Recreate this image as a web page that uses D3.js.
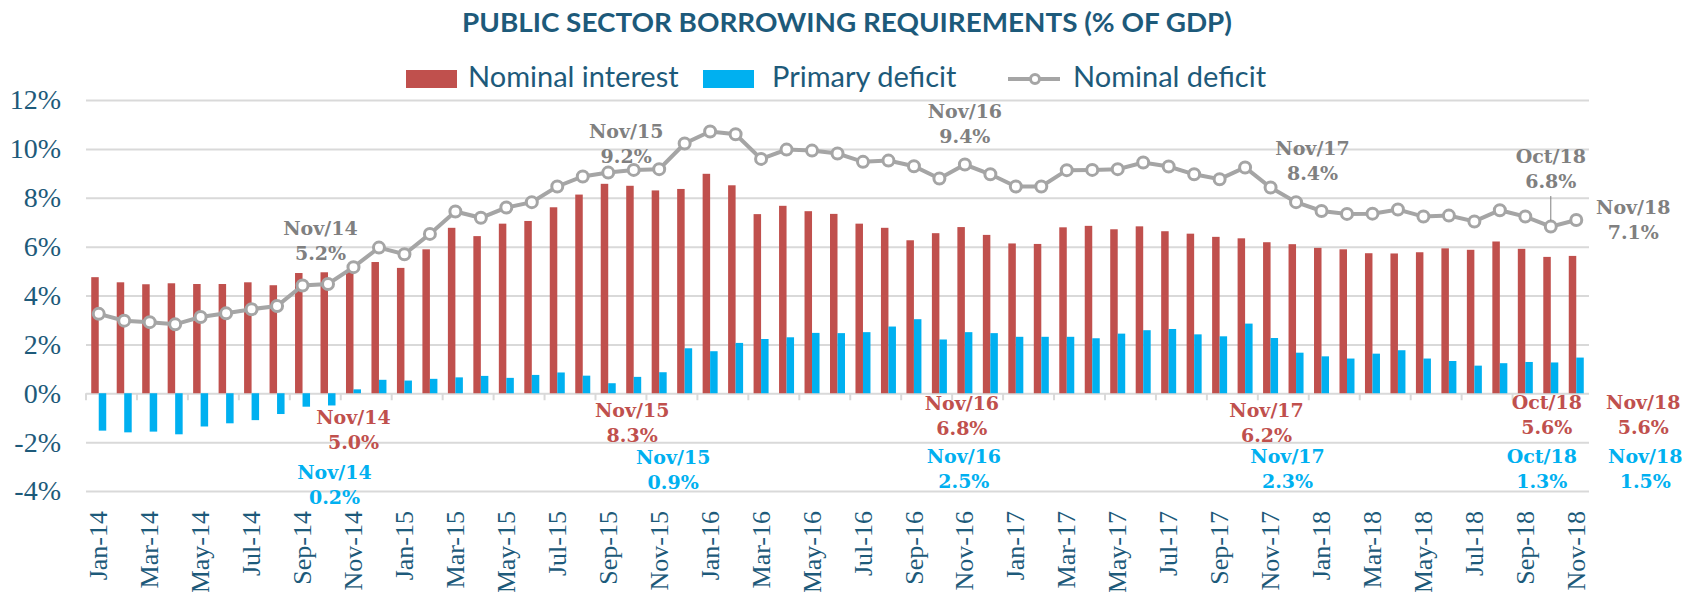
<!DOCTYPE html>
<html>
<head>
<meta charset="utf-8">
<script src="https://cdn.jsdelivr.net/npm/d3@7"></script>
<style>
  body { margin: 0; background: #fff; }
</style>
</head>
<body>
<script>
// Public sector borrowing requirements chart

// Size of the page
const w = 1695;
const h = 592;
const plotLeft = 86;
const plotRight = 1589;

// Colours
const red = "#C0504D";
const blue = "#00B0F0";
const gray = "#A5A5A5";
const grayText = "#808080";
const navy = "#1d5a7a";

// Months (Jan-14 to Nov-18)
const months = [
  "Jan-14","Feb-14","Mar-14","Apr-14","May-14","Jun-14","Jul-14","Aug-14","Sep-14","Oct-14","Nov-14","Dec-14",
  "Jan-15","Feb-15","Mar-15","Apr-15","May-15","Jun-15","Jul-15","Aug-15","Sep-15","Oct-15","Nov-15","Dec-15",
  "Jan-16","Feb-16","Mar-16","Apr-16","May-16","Jun-16","Jul-16","Aug-16","Sep-16","Oct-16","Nov-16","Dec-16",
  "Jan-17","Feb-17","Mar-17","Apr-17","May-17","Jun-17","Jul-17","Aug-17","Sep-17","Oct-17","Nov-17","Dec-17",
  "Jan-18","Feb-18","Mar-18","Apr-18","May-18","Jun-18","Jul-18","Aug-18","Sep-18","Oct-18","Nov-18"
];

// Nominal interest (% of GDP)
const nominalInterest = [
  4.75, 4.54, 4.46, 4.50, 4.47, 4.47, 4.54, 4.42, 4.92, 4.95, 5.00, 5.37,
  5.13, 5.89, 6.77, 6.43, 6.94, 7.05, 7.61, 8.13, 8.57, 8.49, 8.30, 8.36,
  8.98, 8.51, 7.33, 7.67, 7.45, 7.34, 6.94, 6.77, 6.26, 6.55, 6.80, 6.48,
  6.13, 6.11, 6.79, 6.85, 6.71, 6.83, 6.63, 6.53, 6.40, 6.34, 6.18, 6.10,
  5.95, 5.89, 5.73, 5.72, 5.77, 5.93, 5.87, 6.21, 5.91, 5.58, 5.62
];

// Primary deficit (% of GDP)
const primaryDeficit = [
  -1.53, -1.60, -1.57, -1.68, -1.36, -1.23, -1.10, -0.85, -0.55, -0.50, 0.16, 0.55,
  0.52, 0.59, 0.65, 0.71, 0.63, 0.75, 0.85, 0.72, 0.41, 0.67, 0.86, 1.84,
  1.72, 2.06, 2.22, 2.29, 2.47, 2.46, 2.50, 2.73, 3.03, 2.20, 2.50, 2.46,
  2.31, 2.31, 2.31, 2.25, 2.44, 2.58, 2.63, 2.41, 2.33, 2.85, 2.26, 1.66,
  1.51, 1.42, 1.62, 1.76, 1.42, 1.32, 1.13, 1.23, 1.28, 1.26, 1.46
];

// Nominal deficit (% of GDP)
const nominalDeficit = [
  3.25, 2.97, 2.91, 2.82, 3.12, 3.27, 3.44, 3.57, 4.41, 4.47, 5.16, 5.96,
  5.69, 6.52, 7.44, 7.18, 7.60, 7.82, 8.46, 8.87, 9.03, 9.14, 9.17, 10.22,
  10.71, 10.60, 9.59, 9.97, 9.93, 9.81, 9.47, 9.52, 9.29, 8.79, 9.36, 8.96,
  8.46, 8.46, 9.13, 9.14, 9.17, 9.44, 9.28, 8.96, 8.76, 9.24, 8.42, 7.82,
  7.46, 7.34, 7.35, 7.52, 7.23, 7.27, 7.03, 7.49, 7.23, 6.82, 7.09
];

// Y tick values
const yTicks = [-4, -2, 0, 2, 4, 6, 8, 10, 12];

// Labelled months
const labelMonths = ["Nov-14", "Nov-15", "Nov-16", "Nov-17", "Oct-18", "Nov-18"];

// SVG
const svg = d3.select("body")
  .append("svg")
  .attr("width", w)
  .attr("height", h);

// Scales
const xScale = d3.scaleBand()
  .domain(months)
  .range([plotLeft, plotRight])
  .padding(0);
const bw = xScale.bandwidth();
const subScale = d3.scaleBand()
  .domain(["interest", "primary"])
  .range([bw / 2 - 7.5, bw / 2 + 7.5]);
const yScale = d3.scaleLinear()
  .domain([-4, 12])
  .range([491, 100]);
const cx = m => xScale(m) + bw / 2;

// Title
svg.append("text")
  .attr("x", 462)
  .attr("y", 32)
  .attr("textLength", 770)
  .attr("lengthAdjust", "spacingAndGlyphs")
  .style("font-family", "Lato, sans-serif")
  .style("font-weight", "bold")
  .style("font-size", "27px")
  .style("fill", navy)
  .text("PUBLIC SECTOR BORROWING REQUIREMENTS (% OF GDP)");

// Left axis with gridlines
const leftAxis = d3.axisLeft(yScale)
  .tickValues(yTicks)
  .tickSize(-(plotRight - plotLeft))
  .tickPadding(25)
  .tickFormat(d => d + "%");
const yAxisG = svg.append("g")
  .attr("transform", "translate(" + plotLeft + ",0)")
  .call(leftAxis);
yAxisG.select(".domain").remove();
yAxisG.selectAll("line").attr("stroke", "#D9D9D9").attr("stroke-width", 2);
yAxisG.selectAll("text")
  .style("font-family", "'Liberation Serif', serif")
  .style("font-size", "28px")
  .style("fill", navy);

// Tick marks on the zero line, every two months
const evenMonths = months.filter((m, i) => i % 2 === 0);
svg.selectAll(".xtick")
  .data(evenMonths)
  .enter()
  .append("line")
  .attr("x1", d => xScale(d))
  .attr("x2", d => xScale(d))
  .attr("y1", yScale(0))
  .attr("y2", yScale(0) + 7)
  .attr("stroke", "#D9D9D9")
  .attr("stroke-width", 2);

// Month labels
svg.selectAll(".xlabel")
  .data(evenMonths)
  .enter()
  .append("text")
  .attr("transform", d => "translate(" + cx(d) + ",511) rotate(-90)")
  .attr("dy", "0.33em")
  .style("text-anchor", "end")
  .style("font-family", "'Liberation Serif', serif")
  .style("font-size", "26px")
  .style("fill", navy)
  .text(d => d);

// Nominal interest bars
svg.selectAll(".interest")
  .data(months)
  .enter()
  .append("rect")
  .attr("x", d => xScale(d) + subScale("interest"))
  .attr("width", subScale.bandwidth())
  .attr("y", (d, i) => yScale(Math.max(0, nominalInterest[i])))
  .attr("height", (d, i) => Math.abs(yScale(nominalInterest[i]) - yScale(0)))
  .attr("fill", red);

// Primary deficit bars
svg.selectAll(".primary")
  .data(months)
  .enter()
  .append("rect")
  .attr("x", d => xScale(d) + subScale("primary"))
  .attr("width", subScale.bandwidth())
  .attr("y", (d, i) => yScale(Math.max(0, primaryDeficit[i])))
  .attr("height", (d, i) => Math.abs(yScale(primaryDeficit[i]) - yScale(0)))
  .attr("fill", blue);

// Nominal deficit line
const line = d3.line()
  .x((d, i) => cx(months[i]))
  .y(d => yScale(d));
svg.append("path")
  .datum(nominalDeficit)
  .attr("d", line)
  .attr("fill", "none")
  .attr("stroke", gray)
  .attr("stroke-width", 4);
svg.selectAll(".dot")
  .data(nominalDeficit)
  .enter()
  .append("circle")
  .attr("cx", (d, i) => cx(months[i]))
  .attr("cy", d => yScale(d))
  .attr("r", 5.5)
  .attr("fill", "#fff")
  .attr("stroke", gray)
  .attr("stroke-width", 3);

// Data labels: offsets from the point (line) or from the zero line (bars)
const series = {
  deficit: { values: nominalDeficit, color: grayText, fromPoint: true,
    dx: [-33, -33, 0, 42, 0, 57], dy: [-32, -31, -47, -32, -64, -6] },
  interest: { values: nominalInterest, color: red, fromPoint: false,
    dx: [0, -27, -3, -4, -4, 67], dy: [31, 24, 17, 24, 16, 16] },
  primary: { values: primaryDeficit, color: blue, fromPoint: false,
    dx: [-19, 14, -1, 17, -9, 69], dy: [86, 71, 70, 70, 70, 70] }
};

Object.keys(series).forEach(key => {
  const s = series[key];
  labelMonths.forEach((m, j) => {
    const i = months.indexOf(m);
    const v = s.values[i];
    const base = s.fromPoint ? yScale(v) : yScale(0);
    const t = svg.append("text")
      .attr("x", cx(m) + s.dx[j])
      .attr("y", base + s.dy[j])
      .style("text-anchor", "middle")
      .style("font-family", "'DejaVu Serif', serif")
      .style("font-weight", "bold")
      .style("font-size", "19px")
      .style("fill", s.color);
    t.append("tspan").text(m.replace("-", "/"));
    t.append("tspan")
      .attr("x", cx(m) + s.dx[j])
      .attr("dy", 25)
      .text(v.toFixed(1) + "%");
  });
});

// Leader line for Oct/18 nominal deficit label
const oct18 = months.indexOf("Oct-18");
svg.append("line")
  .attr("x1", cx("Oct-18"))
  .attr("x2", cx("Oct-18"))
  .attr("y1", 196)
  .attr("y2", yScale(nominalDeficit[oct18]) - 6)
  .attr("stroke", grayText)
  .attr("stroke-width", 1);

// Legend
const legendItems = [
  { name: "Nominal interest", type: "rect", color: red, x: 406, tx: 468 },
  { name: "Primary deficit", type: "rect", color: blue, x: 703, tx: 772 },
  { name: "Nominal deficit", type: "line", color: gray, x: 1008, tx: 1073 }
];
legendItems.forEach(item => {
  const t = svg.append("text")
    .attr("x", item.tx)
    .attr("y", 87)
    .style("font-family", "Lato, sans-serif")
    .style("font-size", "29px")
    .style("fill", navy)
    .text(item.name);
  const bb = t.node().getBBox();
  svg.insert("rect", "text")
    .attr("x", bb.x - 4)
    .attr("y", 62)
    .attr("width", bb.width + 8)
    .attr("height", 40)
    .attr("fill", "#fff");
  if (item.type === "rect") {
    svg.append("rect")
      .attr("x", item.x)
      .attr("y", 70)
      .attr("width", 51)
      .attr("height", 18)
      .attr("fill", item.color);
  } else {
    svg.append("line")
      .attr("x1", item.x)
      .attr("x2", item.x + 52)
      .attr("y1", 79)
      .attr("y2", 79)
      .attr("stroke", item.color)
      .attr("stroke-width", 4);
    svg.append("circle")
      .attr("cx", item.x + 27)
      .attr("cy", 79)
      .attr("r", 4.5)
      .attr("fill", "#fff")
      .attr("stroke", item.color)
      .attr("stroke-width", 3);
  }
});
</script>
</body>
</html>
